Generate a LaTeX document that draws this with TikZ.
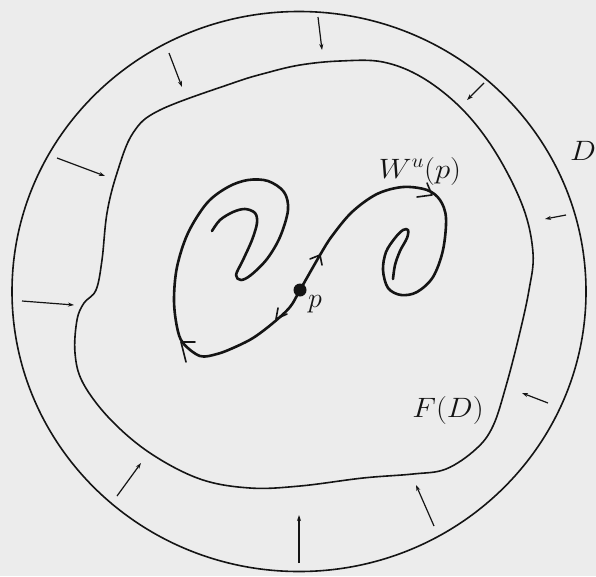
\RequirePackage{fix-cm}
\documentclass[tikz,border=0pt]{standalone}
\usetikzlibrary{arrows.meta}
\definecolor{paper}{RGB}{236,236,236}
\definecolor{ink}{RGB}{20,20,20}
\begin{document}
\begin{tikzpicture}[x=1pt,y=-1pt,
  bound/.style={draw=ink,line width=1.6pt},
  manifold/.style={draw=ink,line width=2.6pt,line cap=round,line join=round},
  inflow/.style={draw=ink,line width=1.2pt,-{Stealth[length=6pt,width=4pt]}},
  barb/.style={draw=ink,line width=1.6pt,line cap=round,line join=round},
  lbl/.style={text=ink,inner sep=0pt,font=\fontsize{28}{34}\selectfont}]
\fill[paper] (0,0) rectangle (596,576);
\useasboundingbox (0,0) rectangle (596,576);
% outer disk D
\draw[bound] (299,291.5) ellipse [x radius=287pt, y radius=280pt];
% image F(D)
\draw[bound] plot[smooth cycle, tension=0.6] coordinates {
 (300,65) (340,61) (383,62) (423,78) (463,110) (496,153) (523,207) (533,253)
 (529,290) (519,336) (506,386) (493,426) (476,449) (446,469) (413,474)
 (363,478) (300,486) (250,488) (200,479) (150,453) (110,419) (83,383)
 (75,353) (77,320) (84,303) (96,290) (102,260) (107,213) (117,173)
 (133,133) (160,110) (233,83) (266,73)};
% inflow arrows
\draw[inflow] (318,17) -- (322,50);
\draw[inflow] (169,53) -- (182,87);
\draw[inflow] (484,83) -- (467,100);
\draw[inflow] (57,158) -- (105,176);
\draw[inflow] (566,215) -- (545,219);
\draw[inflow] (22,301) -- (74,305);
\draw[inflow] (548,403) -- (522,393);
\draw[inflow] (117,496) -- (141,463);
\draw[inflow] (299,563) -- (299,515);
\draw[inflow] (434,526) -- (416,485);
% unstable manifold
\draw[manifold] plot[smooth, tension=0.55] coordinates {
 (212,231) (220,220) (233,212) (245,209) (255,213) (257,223) (252,240)
 (243,260) (236,275) (241,280) (251,275) (267,259) (280,237) (288,210)
 (284,192) (268,181) (248,180) (228,187) (207,203) (188,233) (177,267)
 (174,300) (177,327) (183,343) (200,356) (217,354) (233,348) (253,338)
 (273,323) (290,307) (300,290) (320,255) (332,236) (352,212) (377,194)
 (403,187) (427,190) (440,200) (446,218) (443,250) (433,277) (417,292)
 (401,295) (388,288) (383,270) (386,252) (395,238) (403,230) (408,230)
 (407,238) (400,251) (395,265) (393,279)};
% arrowheads along W^u(p)
\draw[barb] (310,259) -- (320,255) -- (322,265);
\draw[barb] (287,314) -- (276,319) -- (278,308);
\draw[barb] (417,197) -- (432,195) -- (427,183);
\draw[barb] (195,342) -- (181,342) -- (186,362);
% fixed point
\fill[ink] (300,290) circle [radius=6.5pt];
% labels
\node[lbl] (lp) at (315,304) {$p$};
\node[lbl] (lD) at (583,151) {\scalebox{1.1}[1]{$D$}};
\node[lbl] (lW) at (420,171) {\scalebox{1.1}[1]{$W^u(p)$}};
\node[lbl] (lF) at (448,410) {\scalebox{1.1}[1]{$F(D)$}};
\end{tikzpicture}
\end{document}
